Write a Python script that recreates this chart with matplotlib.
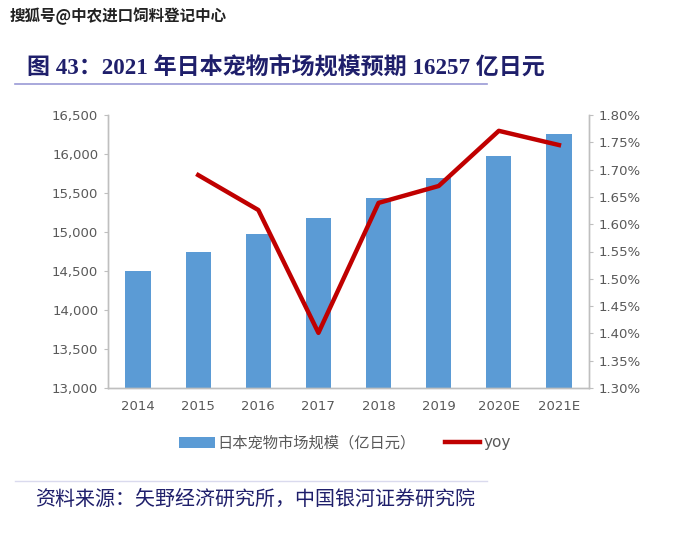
import numpy as np
import matplotlib
matplotlib.use("Agg")
import matplotlib.pyplot as plt
from matplotlib.ticker import FuncFormatter, MultipleLocator

plt.rcParams['font.family'] = ['DejaVu Sans', 'Noto Sans CJK SC']

# ------------------------------
# Daten
# ------------------------------
years = ["2014", "2015", "2016", "2017", "2018", "2019", "2020E", "2021E"]
market_size = [14500, 14740, 14975, 15180, 15436, 15692, 15974, 16257]
yoy_years = ["2015", "2016", "2017", "2018", "2019", "2020E", "2021E"]
yoy = [1.690, 1.626, 1.401, 1.639, 1.670, 1.771, 1.745]  # in %

bar_color = "#5B9BD5"
line_color = "#C00000"
gray = "#595959"
axis_gray = "#BFBFBF"

fig = plt.figure(figsize=(6.95, 5.53), dpi=100)
ax = fig.add_axes([108 / 695, 1 - 388 / 553, (589 - 108) / 695, (388 - 115) / 553])

x = np.arange(len(years))
ax.bar(x, market_size, width=0.42, color=bar_color, label="日本宠物市场规模（亿日元）", zorder=2)
ax.set_ylim(13000, 16500)
ax.set_xlim(-0.5, len(years) - 0.5)
ax.yaxis.set_major_locator(MultipleLocator(500))
ax.yaxis.set_major_formatter(FuncFormatter(lambda v, p: f"{int(v):,}"))
ax.set_xticks(x)
ax.set_xticklabels(years)

ax2 = ax.twinx()
xi = [years.index(y) for y in yoy_years]
ax2.plot(xi, yoy, color=line_color, linewidth=3.2, label="yoy", zorder=3)
ax2.set_ylim(1.30, 1.80)
ax2.yaxis.set_major_locator(MultipleLocator(0.05))
ax2.yaxis.set_major_formatter(FuncFormatter(lambda v, p: f"{v:.2f}%"))

for a in (ax, ax2):
    a.spines['top'].set_visible(False)
    for s in ('left', 'right', 'bottom'):
        a.spines[s].set_color(axis_gray)
        a.spines[s].set_linewidth(1.0)
    a.tick_params(colors=gray, labelsize=9.5, length=3, width=0.8)
    a.tick_params(axis='y', color=axis_gray)
ax.tick_params(axis='x', length=0, pad=9)
ax.tick_params(axis='y', pad=4)
ax2.tick_params(axis='y', pad=4)

# Legende
h1, l1 = ax.get_legend_handles_labels()
h2, l2 = ax2.get_legend_handles_labels()
leg = fig.legend(h1 + h2, l1 + l2, loc='center', bbox_to_anchor=(345 / 695, 1 - 443 / 553),
                 ncol=2, frameon=False, fontsize=11, handlelength=2.3, handletextpad=0.2,
                 columnspacing=1.9)
for t in leg.get_texts():
    t.set_color(gray)

# Titel, Linien, Quelle
fig.text(10 / 695, 1 - 16 / 553, "搜狐号@中农进口饲料登记中心", fontsize=11.2, fontweight='bold',
         color="#222222", va='center', ha='left', family=['Noto Sans CJK SC', 'DejaVu Sans'])
fig.text(27 / 695, 1 - 67 / 553, "图 43：2021 年日本宠物市场规模预期 16257 亿日元", fontsize=16.6,
         fontweight='bold', color="#1F1F6B", va='center', ha='left',
         family=['Liberation Serif', 'Noto Sans CJK SC'])
fig.add_artist(plt.Line2D([15 / 695, 487 / 695], [1 - 84 / 553, 1 - 84 / 553],
                          color="#9A9AD6", linewidth=1.2))
fig.add_artist(plt.Line2D([15 / 695, 487 / 695], [1 - 481 / 553, 1 - 481 / 553],
                          color="#DADAEE", linewidth=1.0))
fig.text(35 / 695, 1 - 499 / 553, "资料来源：矢野经济研究所，中国银河证券研究院", fontsize=14.4,
         style='italic', color="#1F1F6B", va='center', ha='left',
         family=['Noto Sans CJK SC', 'DejaVu Sans'])

fig.savefig("out.png", dpi=100)
